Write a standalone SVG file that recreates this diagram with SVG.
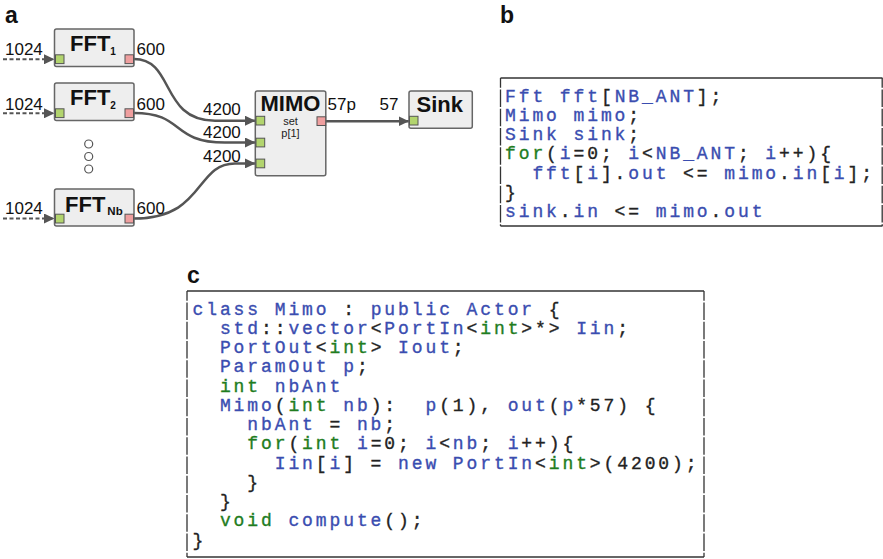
<svg xmlns="http://www.w3.org/2000/svg" width="883" height="559" viewBox="0 0 883 559">
  <style>
    .panel { font-family: "Liberation Sans", Arial, sans-serif; font-weight: bold; font-size: 23px; fill: #111; }
    .node rect.body { fill: #eeeeee; stroke: #666; stroke-width: 1.5; }
    .pin { fill: #b2d46e; stroke: #555; stroke-width: 1; }
    .pout { fill: #ef9f9f; stroke: #555; stroke-width: 1; }
    .title { font-family: "Liberation Sans", Arial, sans-serif; font-weight: bold; font-size: 22px; fill: #111; }
    .sub { font-family: "Liberation Sans", Arial, sans-serif; font-weight: bold; fill: #111; }
    .rate { font-family: "Liberation Sans", Arial, sans-serif; font-size: 17px; fill: #111; }
    .small { font-family: "Liberation Sans", Arial, sans-serif; font-size: 11px; fill: #222; text-anchor: middle; }
    .wire { fill: none; stroke: #555; stroke-width: 2.5; }
    .dash { fill: none; stroke: #555; stroke-width: 2; stroke-dasharray: 4 2.5; }
    .dot { fill: #fff; stroke: #555; stroke-width: 1.2; }
    .frame { stroke: #333; stroke-width: 1.3; fill: none; }
    .side { stroke: #333; stroke-width: 1.3; fill: none; stroke-dasharray: 17.5 1.75; stroke-dashoffset: 7.75; }
    .code { font-family: "Liberation Mono", "Courier New", monospace; font-size: 18px; letter-spacing: 2.9px; fill: #222; stroke: #222; stroke-width: 0.35; }
    .code .b { fill: #3a4db0; stroke: #3a4db0; }
    .code .g { fill: #1f7d1f; stroke: #1f7d1f; }
  </style>
  <defs>
    <marker id="arrow" markerUnits="userSpaceOnUse" markerWidth="11" markerHeight="10" refX="10.5" refY="5" orient="auto">
      <path d="M0,0 L10.5,5 L0,10 z" fill="#555"/>
    </marker>
  </defs>

  <!-- panel letters -->
  <text class="panel" x="5" y="22.5">a</text>
  <text class="panel" x="500" y="23.3">b</text>
  <text class="panel" x="187" y="282.7">c</text>

  <!-- connectors of the actor graph -->
  <g id="connectors">
    <path class="dash" d="M3,59.3 L54.5,59.3" marker-end="url(#arrow)"/>
    <path class="dash" d="M3,113.3 L54.5,113.3" marker-end="url(#arrow)"/>
    <path class="dash" d="M3,218.5 L54.5,218.5" marker-end="url(#arrow)"/>
    <path class="wire" d="M134,59 C175,59 160,120.7 215,120.7 L255.5,120.7" marker-end="url(#arrow)"/>
    <path class="wire" d="M134,113 C185,113 170,142.5 225,142.5 L255.5,142.5" marker-end="url(#arrow)"/>
    <path class="wire" d="M134,218.5 C205,218.5 195,163.4 235,163.4 L255.5,163.4" marker-end="url(#arrow)"/>
    <path class="wire" d="M326,121.2 L409,121.2" marker-end="url(#arrow)"/>
  </g>

  <!-- rate labels -->
  <g id="rates">
    <text class="rate" x="5" y="55">1024</text>
    <text class="rate" x="5" y="109.5">1024</text>
    <text class="rate" x="5" y="214">1024</text>
    <text class="rate" x="136.5" y="55">600</text>
    <text class="rate" x="136.5" y="109.5">600</text>
    <text class="rate" x="136.5" y="214">600</text>
    <text class="rate" x="203" y="115">4200</text>
    <text class="rate" x="203" y="138.3">4200</text>
    <text class="rate" x="203" y="161.7">4200</text>
    <text class="rate" x="327.5" y="110">57p</text>
    <text class="rate" x="379.5" y="110">57</text>
  </g>

  <g id="fft1" class="node">
    <rect class="body" x="54.5" y="29" width="79.5" height="37.5" rx="2"/>
    <rect class="pin" x="55.5" y="54.8" width="8.5" height="8.8"/>
    <rect class="pout" x="125" y="54.8" width="8.5" height="8.8"/>
    <text class="title" x="70" y="50.7">FFT<tspan class="sub" font-size="10" dy="4.3">1</tspan></text>
  </g>

  <g id="fft2" class="node">
    <rect class="body" x="54.5" y="83" width="79.5" height="37.5" rx="2"/>
    <rect class="pin" x="55.5" y="108.8" width="8.5" height="8.8"/>
    <rect class="pout" x="125" y="108.8" width="8.5" height="8.8"/>
    <text class="title" x="70" y="104.7">FFT<tspan class="sub" font-size="10" dy="4.3">2</tspan></text>
  </g>

  <g id="dots">
    <circle class="dot" cx="88.7" cy="144" r="4"/>
    <circle class="dot" cx="88.7" cy="156.5" r="4"/>
    <circle class="dot" cx="88.7" cy="169" r="4"/>
  </g>

  <g id="fftnb" class="node">
    <rect class="body" x="54.5" y="189" width="79.5" height="37" rx="2"/>
    <rect class="pin" x="55.5" y="214.2" width="8.5" height="8.8"/>
    <rect class="pout" x="125" y="214.2" width="8.5" height="8.8"/>
    <text class="title" x="65" y="211.5">FFT<tspan class="sub" font-size="11.5" dx="2" dy="3.5">Nb</tspan></text>
  </g>

  <g id="mimo" class="node">
    <rect class="body" x="255.3" y="91" width="70.5" height="84.7" rx="2"/>
    <rect class="pin" x="256" y="116.3" width="8.7" height="8.7"/>
    <rect class="pin" x="256" y="138.2" width="8.7" height="8.7"/>
    <rect class="pin" x="256" y="159.1" width="8.7" height="8.7"/>
    <rect class="pout" x="317" y="116.8" width="8.7" height="8.7"/>
    <text class="title" x="290.5" y="111" text-anchor="middle">MIMO</text>
    <text class="small" x="290.5" y="124.8">set</text>
    <text class="small" x="290.5" y="137.3">p[1]</text>
  </g>

  <g id="sink" class="node">
    <rect class="body" x="409" y="91" width="63.3" height="37.3" rx="2"/>
    <rect class="pin" x="409.5" y="116.3" width="8.5" height="8.7"/>
    <text class="title" x="416.5" y="112.3">Sink</text>
  </g>

  <!-- listing b: graph construction -->
  <g id="listing-b">
    <line class="frame" x1="500.5" y1="78" x2="882.5" y2="78"/>
    <line class="frame" x1="500.5" y1="226" x2="882.5" y2="226"/>
    <line class="side" x1="500.5" y1="78" x2="500.5" y2="226"/>
    <line class="side" x1="882.2" y1="78" x2="882.2" y2="226"/>
    <text class="code" xml:space="preserve" x="505" y="101.7"><tspan class="b">Fft fft</tspan>[<tspan class="b">NB_ANT</tspan>];</text>
    <text class="code" xml:space="preserve" x="505" y="120.95"><tspan class="b">Mimo mimo</tspan>;</text>
    <text class="code" xml:space="preserve" x="505" y="140.2"><tspan class="b">Sink sink</tspan>;</text>
    <text class="code" xml:space="preserve" x="505" y="159.45"><tspan class="g">for</tspan>(<tspan class="b">i</tspan>=0; <tspan class="b">i</tspan>&lt;<tspan class="b">NB_ANT</tspan>; <tspan class="b">i</tspan>++){</text>
    <text class="code" xml:space="preserve" x="532.4" y="178.7"><tspan class="b">fft</tspan>[<tspan class="b">i</tspan>].<tspan class="b">out</tspan> &lt;= <tspan class="b">mimo</tspan>.<tspan class="b">in</tspan>[<tspan class="b">i</tspan>];</text>
    <text class="code" xml:space="preserve" x="505" y="197.95">}</text>
    <text class="code" xml:space="preserve" x="505" y="217.2"><tspan class="b">sink</tspan>.<tspan class="b">in</tspan> &lt;= <tspan class="b">mimo</tspan>.<tspan class="b">out</tspan></text>
  </g>

  <!-- listing c: actor class -->
  <g id="listing-c">
    <line class="frame" x1="187" y1="291" x2="704" y2="291"/>
    <line class="frame" x1="187" y1="557" x2="704" y2="557"/>
    <line class="side" x1="187" y1="291" x2="187" y2="557"/>
    <line class="side" x1="704" y1="291" x2="704" y2="557"/>
    <text class="code" xml:space="preserve" x="192.5" y="314.5"><tspan class="b">class Mimo</tspan> : <tspan class="b">public Actor</tspan> {</text>
    <text class="code" xml:space="preserve" x="219.9" y="333.75"><tspan class="b">std</tspan>::<tspan class="b">vector</tspan>&lt;<tspan class="b">PortIn</tspan>&lt;<tspan class="g">int</tspan>&gt;*&gt; <tspan class="b">Iin</tspan>;</text>
    <text class="code" xml:space="preserve" x="219.9" y="353"><tspan class="b">PortOut</tspan>&lt;<tspan class="g">int</tspan>&gt; <tspan class="b">Iout</tspan>;</text>
    <text class="code" xml:space="preserve" x="219.9" y="372.25"><tspan class="b">ParamOut p</tspan>;</text>
    <text class="code" xml:space="preserve" x="219.9" y="391.5"><tspan class="g">int</tspan> <tspan class="b">nbAnt</tspan></text>
    <text class="code" xml:space="preserve" x="219.9" y="410.75"><tspan class="b">Mimo</tspan>(<tspan class="g">int</tspan> <tspan class="b">nb</tspan>):  <tspan class="b">p</tspan>(1), <tspan class="b">out</tspan>(<tspan class="b">p</tspan>*57) {</text>
    <text class="code" xml:space="preserve" x="247.3" y="430"><tspan class="b">nbAnt</tspan> = <tspan class="b">nb</tspan>;</text>
    <text class="code" xml:space="preserve" x="247.3" y="449.25"><tspan class="g">for</tspan>(<tspan class="g">int</tspan> <tspan class="b">i</tspan>=0; <tspan class="b">i</tspan>&lt;<tspan class="b">nb</tspan>; <tspan class="b">i</tspan>++){</text>
    <text class="code" xml:space="preserve" x="274.7" y="468.5"><tspan class="b">Iin</tspan>[<tspan class="b">i</tspan>] = <tspan class="b">new PortIn</tspan>&lt;<tspan class="g">int</tspan>&gt;(4200);</text>
    <text class="code" xml:space="preserve" x="247.3" y="487.75">}</text>
    <text class="code" xml:space="preserve" x="219.9" y="507">}</text>
    <text class="code" xml:space="preserve" x="219.9" y="526.25"><tspan class="g">void</tspan> <tspan class="b">compute</tspan>();</text>
    <text class="code" xml:space="preserve" x="192.5" y="545.5">}</text>
  </g>
</svg>
